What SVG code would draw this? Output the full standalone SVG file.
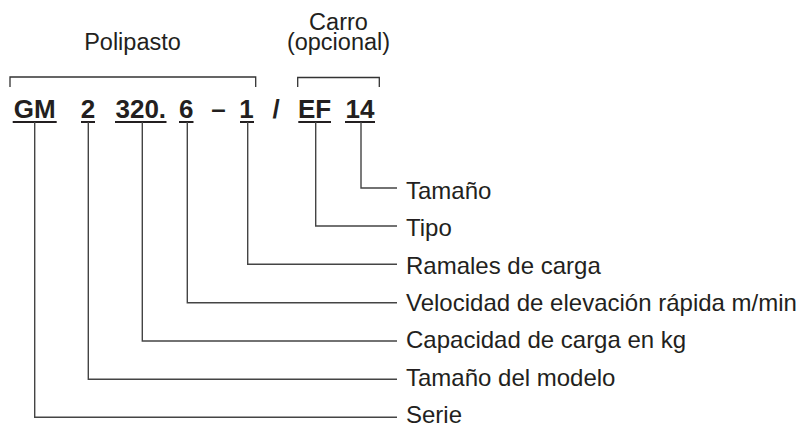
<svg xmlns="http://www.w3.org/2000/svg" width="806" height="425" viewBox="0 0 806 425">
<style>
text{font-family:"Liberation Sans",Arial,sans-serif;fill:#231f20}
.code{font-size:26px;font-weight:bold;text-anchor:middle}
.hdr{font-size:23.5px;text-anchor:middle}
.lbl{font-size:24px}
.ul{stroke:#231f20;stroke-width:2;fill:none}
.br{stroke:#333;stroke-width:1.3;fill:none}
.cn{stroke:#444;stroke-width:1.4;fill:none}
</style>
<rect width="806" height="425" fill="#fff"/>
<g id="headers">
<text class="hdr" x="132.5" y="49.5">Polipasto</text>
<text class="hdr" x="338.5" y="29.5">Carro</text>
<text class="hdr" x="338.5" y="50">(opcional)</text>
<path class="br" d="M10,87 V77 H255.7 V87"/>
<path class="br" d="M297.7,87 V77.5 H379.3 V87"/>
</g>
<g id="code">
<text class="code" x="34.7" y="118">GM</text>
<text class="code" x="88" y="118">2</text>
<text class="code" x="140.8" y="118">320.</text>
<text class="code" x="186.3" y="118">6</text>
<text class="code" x="218.5" y="118">–</text>
<text class="code" x="246.5" y="118">1</text>
<text class="code" x="276" y="118">/</text>
<text class="code" x="314.5" y="118">EF</text>
<text class="code" x="360" y="118">14</text>
<path class="ul" d="M12.7,122 H56.7 M81,122 H95 M115,122 H166.5 M179,122 H193.5 M240,122 H254 M298.3,122 H331 M345,122 H375"/>
</g>
<g id="connectors">
<path class="cn" d="M361,122 V188 H397"/>
<path class="cn" d="M315.7,122 V226 H397"/>
<path class="cn" d="M247.7,122 V264.3 H397"/>
<path class="cn" d="M187.3,122 V302.7 H397"/>
<path class="cn" d="M142.3,122 V341 H397"/>
<path class="cn" d="M88.3,122 V379.3 H397"/>
<path class="cn" d="M34.7,122 V417.3 H397"/>
</g>
<g id="n-tamano"><text class="lbl" x="406" y="198.5">Tamaño</text></g>
<g id="n-tipo"><text class="lbl" x="406" y="236">Tipo</text></g>
<g id="n-ramales"><text class="lbl" x="406" y="273.5">Ramales de carga</text></g>
<g id="n-velocidad"><text class="lbl" x="406" y="311">Velocidad de elevación rápida m/min</text></g>
<g id="n-capacidad"><text class="lbl" x="406" y="348.3">Capacidad de carga en kg</text></g>
<g id="n-modelo"><text class="lbl" x="406" y="385.7">Tamaño del modelo</text></g>
<g id="n-serie"><text class="lbl" x="406" y="423">Serie</text></g>
</svg>
